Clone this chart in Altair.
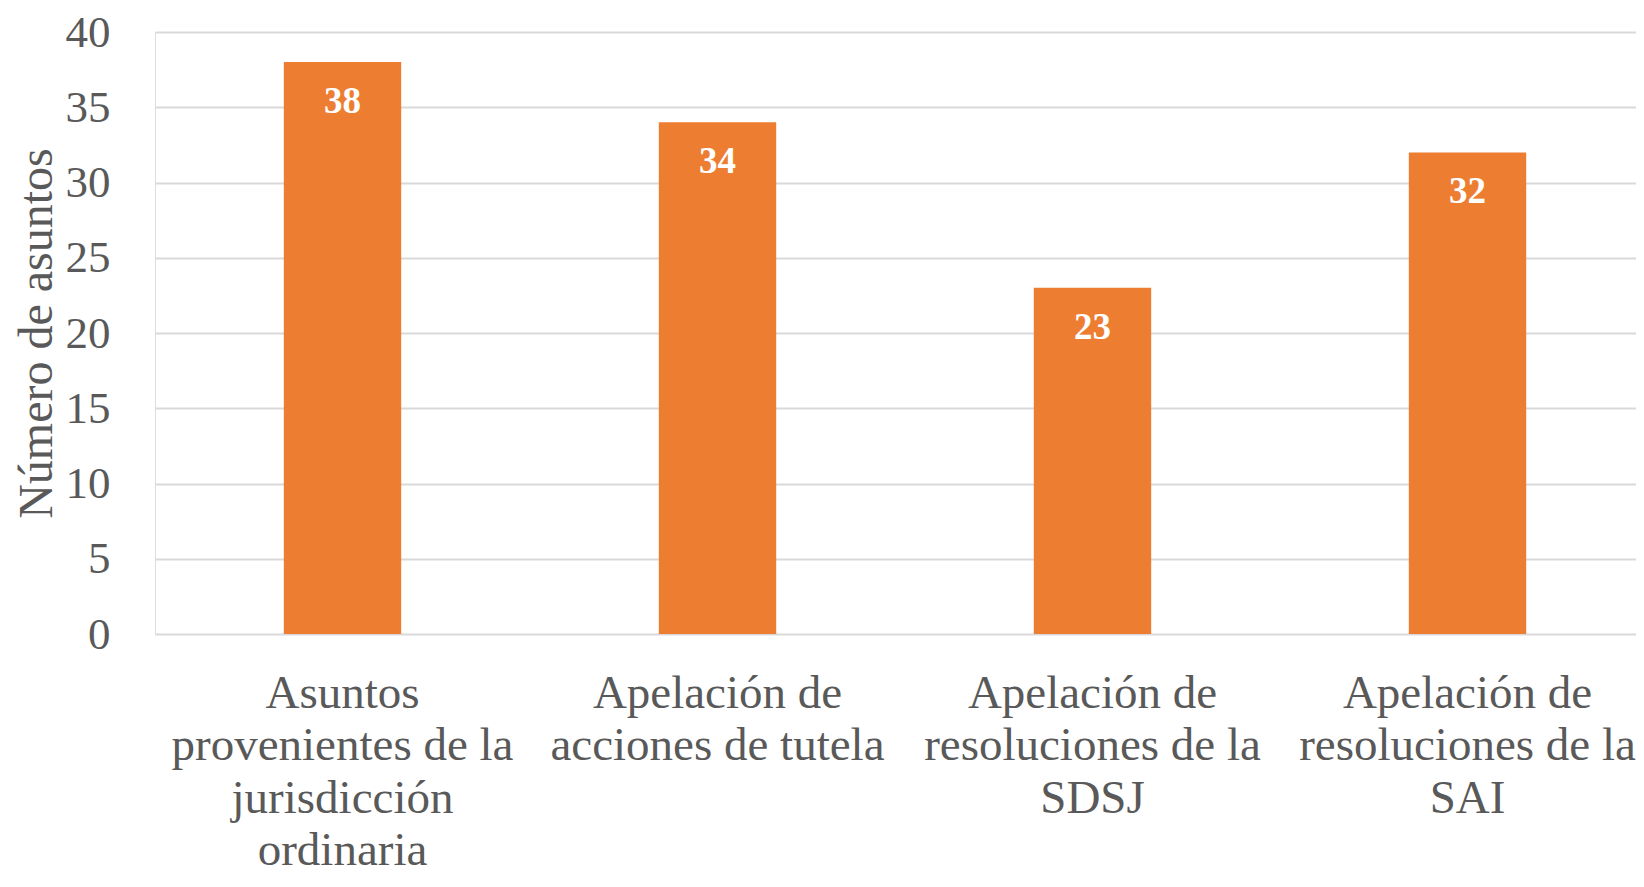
import altair as alt
import pandas as pd

categories = [
    "Asuntos|provenientes de la|jurisdicción|ordinaria",
    "Apelación de|acciones de tutela",
    "Apelación de|resoluciones de la|SDSJ",
    "Apelación de|resoluciones de la|SAI",
]
values = [38, 34, 23, 32]
y_ticks = [0, 5, 10, 15, 20, 25, 30, 35, 40]

df = pd.DataFrame({"cat": categories, "val": values})

FONT = "Liberation Serif"
GREY = "#595959"

x_enc = alt.X(
    "cat:N",
    sort=categories,
    scale=alt.Scale(range=[0, 1500], paddingInner=0.687, paddingOuter=0.3435),
    axis=alt.Axis(
        title=None,
        labelExpr="split(datum.label, '|')",
        labelAngle=0,
        labelFont=FONT,
        labelFontSize=47,
        labelColor=GREY,
        labelLineHeight=52.5,
        labelPadding=36,
        labelBaseline="top",
        labelLimit=600,
        ticks=False,
        domain=False,
        grid=False,
    ),
)

y_enc = alt.Y(
    "val:Q",
    scale=alt.Scale(domain=[0, 40], nice=False),
    axis=alt.Axis(
        title="Número de asuntos",
        values=y_ticks,
        labelFont=FONT,
        labelFontSize=45,
        labelColor=GREY,
        labelPadding=45,
        ticks=False,
        domain=False,
        grid=True,
        gridColor="#d9d9d9",
        gridWidth=2,
        titleFont=FONT,
        titleFontSize=48,
        titleFontWeight="normal",
        titleColor=GREY,
        titleX=-104,
        titleY=301,
        titleAngle=-90,
        titleAlign="center",
        titleBaseline="alphabetic",
    ),
)

bars = alt.Chart(df).mark_bar(color="#ED7D31").encode(x=x_enc, y=y_enc)

labels = alt.Chart(df).mark_text(
    color="white",
    font=FONT,
    fontSize=37,
    fontWeight="bold",
    baseline="alphabetic",
    align="center",
    dy=51,
).encode(x=alt.X("cat:N", sort=categories), y="val:Q", text="val:Q")

chart = (
    alt.layer(bars, labels)
    .properties(
        width=1481,
        height=602,
        autosize=alt.AutoSizeParams(type="none"),
        padding={"left": 147, "top": 24, "right": 0, "bottom": 245},
    )
    .configure_view(stroke=None)
    .configure(background="white")
)

chart.save("out.html", embed_options={"renderer": "svg", "actions": False})
